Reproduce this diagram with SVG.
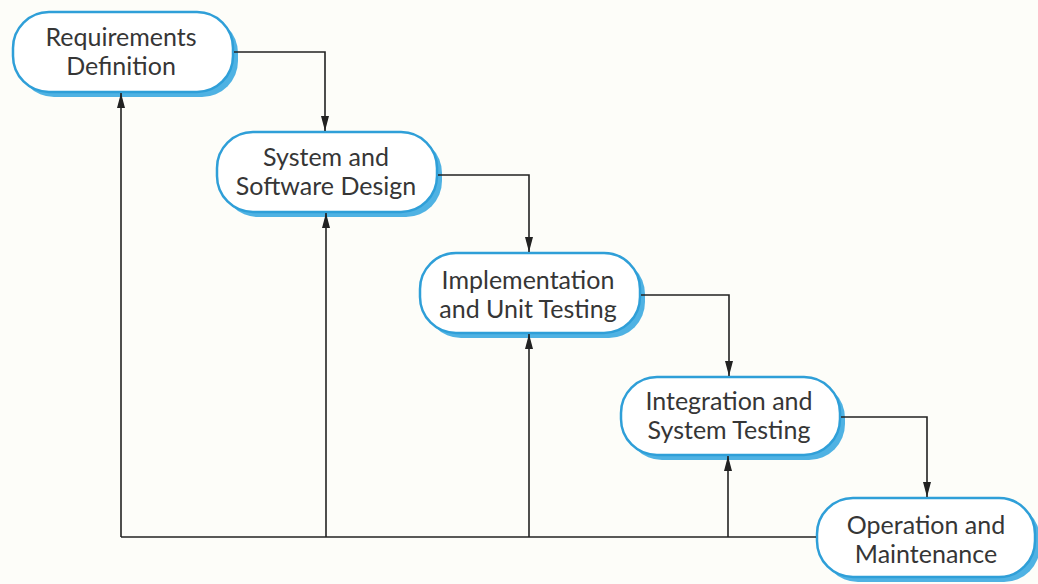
<svg xmlns="http://www.w3.org/2000/svg" width="1038" height="584" viewBox="0 0 1038 584">
  <defs>
    <marker id="arr" markerUnits="userSpaceOnUse" markerWidth="16" markerHeight="10" viewBox="0 0 16 10" refX="15" refY="5" orient="auto">
      <path d="M0,1 L15,5 L0,9 Z" fill="#222"/>
    </marker>
    <style>
      .bg { fill: #fdfdf9; }
      .shadow { fill: #4fb2e3; }
      .box { fill: #ffffff; stroke: #2f9fd8; stroke-width: 2.5; }
      .lbl { font-family: Lato, "Open Sans", "Liberation Sans", sans-serif; font-size: 25px; fill: #363636; text-anchor: middle; }
      .wire { fill: none; stroke: #222; stroke-width: 1.6; }
    </style>
  </defs>
  <rect class="bg" x="0" y="0" width="1038" height="584"/>

  <g id="requirements">
    <rect class="shadow" x="18" y="17" width="220" height="80" rx="36"/>
    <rect class="box" x="13" y="12" width="220" height="80" rx="36"/>
    <text class="lbl" x="121" y="46">Requirements</text>
    <text class="lbl" x="121" y="75">Definition</text>
  </g>

  <g id="design">
    <rect class="shadow" x="222" y="137" width="220" height="80" rx="36"/>
    <rect class="box" x="217" y="132" width="220" height="80" rx="36"/>
    <text class="lbl" x="326" y="166">System and</text>
    <text class="lbl" x="326" y="195">Software Design</text>
  </g>

  <g id="implementation">
    <rect class="shadow" x="425" y="258" width="220" height="80" rx="36"/>
    <rect class="box" x="420" y="253" width="220" height="80" rx="36"/>
    <text class="lbl" x="528" y="289">Implementation</text>
    <text class="lbl" x="528" y="318">and Unit Testing</text>
  </g>

  <g id="integration">
    <rect class="shadow" x="626" y="382" width="219" height="78" rx="36"/>
    <rect class="box" x="621" y="377" width="219" height="78" rx="36"/>
    <text class="lbl" x="729" y="410">Integration and</text>
    <text class="lbl" x="729" y="439">System Testing</text>
  </g>

  <g id="operation">
    <rect class="shadow" x="822" y="503" width="218" height="79" rx="36"/>
    <rect class="box" x="817" y="498" width="218" height="79" rx="36"/>
    <text class="lbl" x="926" y="534">Operation and</text>
    <text class="lbl" x="926" y="563">Maintenance</text>
  </g>

  <g id="connectors">
    <path class="wire" d="M234,52 H325 V131" marker-end="url(#arr)"/>
    <path class="wire" d="M438,175 H529 V252" marker-end="url(#arr)"/>
    <path class="wire" d="M641,295 H729 V376" marker-end="url(#arr)"/>
    <path class="wire" d="M841,417 H927 V497" marker-end="url(#arr)"/>
    <path class="wire" d="M121,537 H816"/>
    <path class="wire" d="M121,537 V93" marker-end="url(#arr)"/>
    <path class="wire" d="M326,537 V213" marker-end="url(#arr)"/>
    <path class="wire" d="M529,537 V334" marker-end="url(#arr)"/>
    <path class="wire" d="M728,537 V456" marker-end="url(#arr)"/>
  </g>
</svg>
